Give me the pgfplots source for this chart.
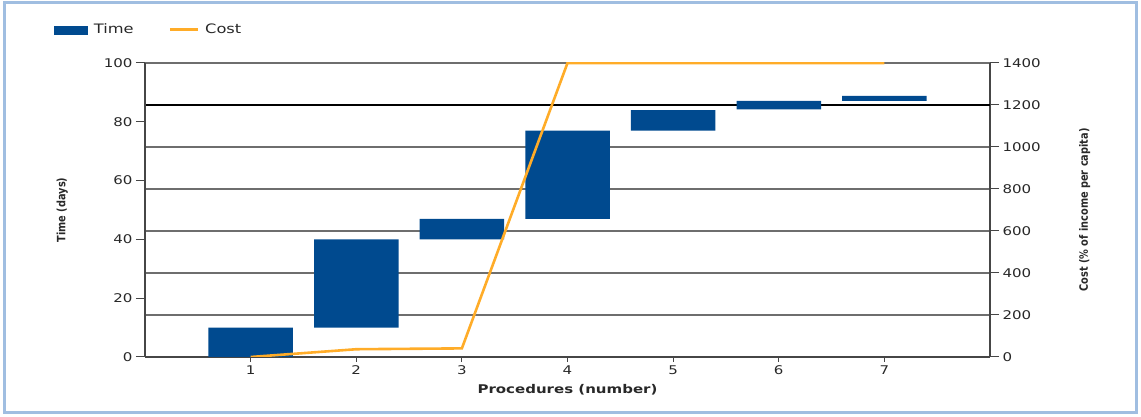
\documentclass[border=0pt]{standalone}
\usepackage{fontspec}
\setmainfont{DejaVu Sans}
\newfontfamily\wide[FakeStretch=1.25]{DejaVu Sans}
\newfontfamily\narrow[FakeStretch=0.85]{DejaVu Sans}
\usepackage{pgfplots}
\pgfplotsset{compat=1.18}
\definecolor{tblue}{RGB}{0,74,143}
\definecolor{corange}{RGB}{255,172,40}
\definecolor{frameblue}{RGB}{160,190,225}
\definecolor{axgray}{RGB}{70,70,70}
\definecolor{gridgray}{RGB}{110,110,110}
\definecolor{txt}{RGB}{40,40,40}
\pgfplotsset{
  base/.style={
    width=845pt, height=294pt, scale only axis,
    at={(0,0)}, anchor=south west,
    xmin=0, xmax=8,
    /pgf/number format/assume math mode=true,
    /pgf/number format/1000 sep={},
    tick label style={font=\wide\fontsize{12}{14}\selectfont, text=txt},
    tick align=outside,
    major tick length=9pt,
  }
}
\begin{document}
\begin{tikzpicture}[x=1pt,y=1pt]
\path[use as bounding box] (-145,-60) rectangle (996,357);
\draw[frameblue, line width=3] (-140,-56) rectangle (991,354);
% grid and right axis
\begin{axis}[base,
  ymin=0, ymax=1400, ytick={0,200,...,1400},
  axis y line*=right, axis x line=none,
  ymajorgrids, grid style={gridgray, line width=1.4pt},
  y axis line style={axgray, line width=1.6pt},
  ytick style={axgray, line width=1pt},
  ylabel={Cost (\% of income per capita)},
  ylabel style={at={(axis description cs:1.112,0.5)}, anchor=center, font=\narrow\bfseries\fontsize{11.5}{13}\selectfont, text=txt},
]
\addplot[black, line width=2.2pt] coordinates {(0,1200) (8,1200)};
\end{axis}
% left axis ticks
\begin{axis}[base,
  ymin=0, ymax=100, ytick={0,20,...,100},
  axis y line*=left, axis x line=none,
  y axis line style={axgray, line width=1.6pt},
  ytick style={axgray, line width=1pt},
  ylabel={Time (days)},
  ylabel style={at={(axis description cs:-0.098,0.5)}, anchor=center, font=\narrow\bfseries\fontsize{11.5}{13}\selectfont, text=txt},
]
\end{axis}
% bars and x axis
\begin{axis}[base,
  major tick length=5pt,
  ymin=0, ymax=100, ytick=\empty,
  axis y line=none, axis x line*=bottom,
  xtick={1,...,7},
  x axis line style={axgray, line width=2.2pt},
  xtick style={axgray, line width=1pt},
  ybar stacked, bar width=0.8,
  xlabel={Procedures (number)},
  xlabel style={at={(axis description cs:0.5,-0.112)}, anchor=center, font=\wide\bfseries\fontsize{12}{14}\selectfont, text=txt},
]
\addplot[draw=none, fill=none] coordinates {(1,0) (2,10) (3,40) (4,47) (5,77) (6,84.2) (7,87.1)};
\addplot[draw=none, fill=tblue] coordinates {(1,10) (2,30) (3,7) (4,30) (5,7) (6,2.9) (7,1.7)};
\end{axis}
% cost line
\begin{axis}[base,
  ymin=0, ymax=1400,
  axis lines=none,
  legend style={at={(-0.111,1.113)}, anchor=west, draw=none, fill=none,
    legend columns=2, font=\wide\fontsize{13}{15}\selectfont, text=txt,
    /tikz/every even column/.append style={column sep=33pt},
    /tikz/every odd column/.append style={column sep=4pt}},
  legend cell align=left,
]
\addlegendimage{legend image code/.code={\fill[tblue] (0pt,-4pt) rectangle (33pt,4pt);}}
\addlegendentry{Time}
\addplot[corange, line width=2.6pt, legend image code/.code={\draw[corange, line width=2.6pt] (0pt,0pt) -- (28pt,0pt);}]
  coordinates {(1,0) (2,37) (3,41) (4,1400) (5,1400) (6,1400) (7,1400)};
\addlegendentry{Cost}
\end{axis}
\end{tikzpicture}
\end{document}
